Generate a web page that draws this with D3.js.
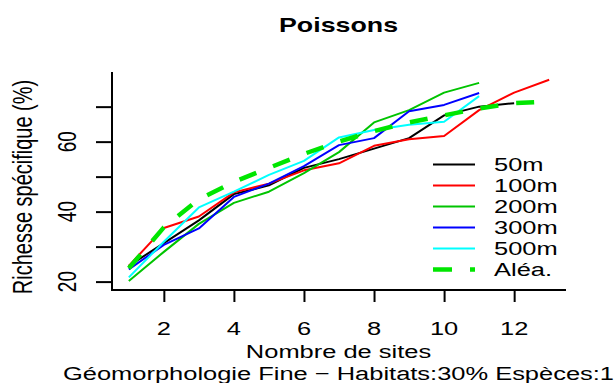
<!DOCTYPE html>
<html>
<head>
<meta charset="utf-8">
<script src="https://cdn.jsdelivr.net/npm/d3@7"></script>
<style>
  body { margin: 0; background: #fff; }
  svg { display: block; font-family: Arial, "Liberation Sans", sans-serif; }
</style>
</head>
<body>
<svg width="616" height="383"></svg>
<script>
// values
const sites = [1, 2, 3, 4, 5, 6, 7, 8, 9, 10, 11, 12, 13];
const xTicks = [2, 4, 6, 8, 10, 12];
const yTicks = [20, 30, 40, 50, 60, 70];
const yLabels = [20, 40, 60];

const s50m  = [24.5, 31, 37.5, 45, 47.5, 52.5, 55, 58, 61, 67.5, 70, 71];
const s100m = [24.5, 35.3, 38.6, 45.5, 48, 51.8, 53.8, 58.8, 60.7, 61.6, 69, 74, 77.7];
const s200m = [20.2, 28.5, 36.5, 42.5, 45.7, 51, 57, 65.5, 69, 74, 76.8];
const s300m = [23.5, 30.5, 35.2, 44.2, 48, 53, 59, 61, 68.7, 70.5, 73.9];
const s500m = [21.2, 31.4, 41.2, 45.7, 50.5, 54.5, 61.2, 63.3, 64.8, 65.7, 73];
const alea  = [23.8, 35.5, 43.5, 48.5, 52.5, 56.5, 60, 63, 65.5, 67.5, 69.5, 71, 71.5];

const seriesNames = ['50m', '100m', '200m', '300m', '500m', 'Aléa.'];
const seriesValues = [s50m, s100m, s200m, s300m, s500m, alea];
const colors = ['#000000', '#ff0000', '#00c400', '#0000ff', '#00ffff', '#00e600'];

const svg = d3.select('svg');
const SX = 1.34; // the original picture is stretched sideways

const x = d3.scaleLinear().domain([0.52, 13.48]).range([112, 566]);
const y = d3.scaleLinear().domain([17.6, 79.9]).range([290, 72]);

// stretched text helper
function label(px, py, str, opts) {
  opts = opts || {};
  const g = svg.append('g')
      .attr('transform', `translate(${px},${py}) scale(${SX},1)` + (opts.rotate ? ' rotate(-90)' : ''));
  return g.append('text')
      .attr('text-anchor', opts.anchor || 'middle')
      .attr('font-size', opts.size || 19)
      .attr('font-weight', opts.bold ? 'bold' : null)
      .attr('dy', opts.dy || null)
      .attr('fill', '#000')
      .text(str);
}

// L-shaped box
svg.append('path')
    .attr('d', `M${x.range()[0]},${y.range()[1]}V${y.range()[0]}H${x.range()[1]}`)
    .attr('fill', 'none')
    .attr('stroke', '#000')
    .attr('stroke-width', 2);

const xAxis = svg.append('g')
    .attr('transform', `translate(0,${y.range()[0]})`)
    .call(d3.axisBottom(x).tickValues(xTicks).tickSize(12).tickFormat(''));
const yAxis = svg.append('g')
    .attr('transform', `translate(${x.range()[0]},0)`)
    .call(d3.axisLeft(y).tickValues(yTicks).tickSize(16).tickFormat(''));
[xAxis, yAxis].forEach(a => {
  a.select('.domain').remove();
  a.selectAll('line').attr('stroke', '#000').attr('stroke-width', 2);
});

xTicks.forEach(v => label(x(v), 335, String(v)));
yLabels.forEach(v => label(76, y(v), String(v), { rotate: true }));

// lines
const line = d3.line()
    .x((d, i) => x(sites[i]))
    .y(d => y(d));

seriesValues.forEach((vals, k) => {
  const isAlea = k === seriesValues.length - 1;
  svg.append('path')
      .datum(vals)
      .attr('d', line)
      .attr('fill', 'none')
      .attr('stroke', colors[k])
      .attr('stroke-width', isAlea ? 4.5 : 2)
      .attr('stroke-dasharray', isAlea ? '18,18' : null)
      .attr('stroke-linejoin', 'round');
});

// legend
const legendTop = 164.5, legendStep = 21;
seriesNames.forEach((name, k) => {
  const ly = legendTop + k * legendStep;
  const isAlea = k === seriesNames.length - 1;
  svg.append('line')
      .attr('x1', 433).attr('x2', 475)
      .attr('y1', ly).attr('y2', ly)
      .attr('stroke', colors[k])
      .attr('stroke-width', isAlea ? 4.5 : 2)
      .attr('stroke-dasharray', isAlea ? '19,18' : null);
  label(494, ly, name, { anchor: 'start', dy: '0.36em' });
});

// titles
label(338.5, 32, 'Poissons', { bold: true, size: 20 });
label(338.5, 358, 'Nombre de sites');
label(338.5, 380, 'Géomorphologie Fine − Habitats:30% Espèces:1');
label(32, 187, 'Richesse spécifique (%)', { rotate: true, size: 20 });
</script>
</body>
</html>
